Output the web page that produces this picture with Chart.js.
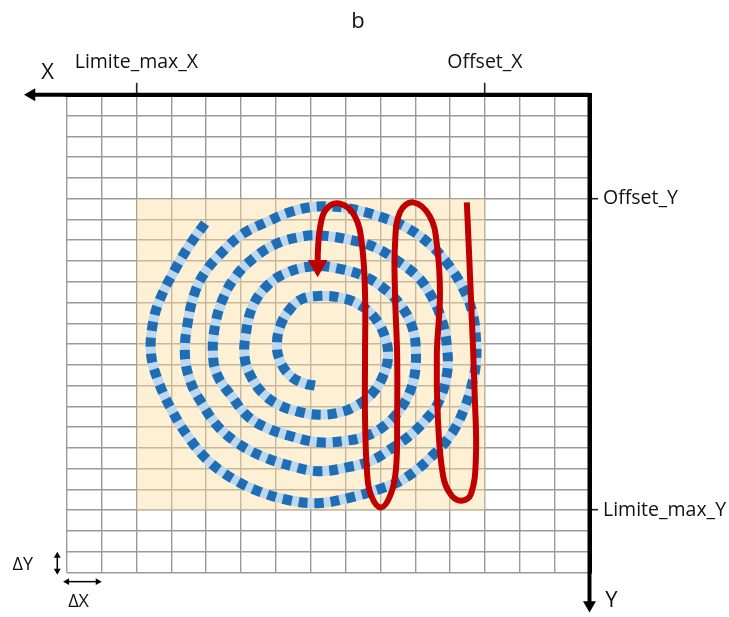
<!DOCTYPE html>
<html>
<head>
<meta charset="utf-8">
<script src="https://cdn.jsdelivr.net/npm/chart.js@4.4.1/dist/chart.umd.min.js"></script>
<style>
  html, body { margin: 0; padding: 0; background: #fff; }
</style>
</head>
<body>
<canvas id="scan-chart" width="729" height="617"></canvas>
<script>
// grid size, in cells (ΔX, ΔY)
const gridCols = 15;
const gridRows = 23;

// labelled ticks on the two axes
const xTicks = [3, 13];
const xTickLabels = ['Offset_X', 'Limite_max_X'];
const yTicks = [5, 20];
const yTickLabels = ['Offset_Y', 'Limite_max_Y'];

// scanned zone
const zoneX = [3, 13];
const zoneY = [5, 20];

// spiral path (inner end -> outer end)
const spiralX = [7.88, 8.16, 8.59, 8.88, 8.97, 8.85, 8.59, 8.25, 7.79, 7.22,
  6.64, 6.16, 5.87, 5.78, 5.93, 6.24, 6.73, 7.30, 7.88, 8.36,
  8.88, 9.34, 9.68, 9.89, 9.86, 9.66, 9.23, 8.65, 7.88, 7.10,
  6.41, 5.84, 5.38, 5.09, 4.98, 5.06, 5.38, 5.87, 6.44, 7.10,
  7.79, 8.54, 9.23, 9.80, 10.26, 10.66, 10.80, 10.75, 10.52, 10.17,
  9.68, 9.02, 8.36, 7.79, 6.93, 6.16, 5.50, 4.92, 4.52, 4.23,
  4.09, 4.09, 4.35, 4.72, 5.15, 5.67, 6.24, 6.93, 7.79, 8.54,
  9.40, 10.09, 10.66, 11.12, 11.46, 11.61, 11.52, 11.32, 11.03, 10.60,
  9.97, 9.23, 8.54, 7.79, 6.93, 5.95, 5.21, 4.58, 4.06, 3.66,
  3.37, 3.26, 3.26, 3.37, 3.57, 3.95, 4.52, 5.29, 5.95, 6.93,
  7.79, 8.65, 9.51, 10.26, 10.95, 11.52, 11.98, 12.38, 12.58, 12.53,
  12.32, 11.89, 11.46, 11.03];
const spiralY = [14.00, 13.91, 13.52, 12.80, 11.99, 11.03, 10.31, 9.83, 9.69, 9.74,
  10.07, 10.74, 11.65, 12.61, 13.57, 14.38, 15.01, 15.34, 15.39, 15.25,
  14.96, 14.43, 13.67, 12.71, 11.51, 10.17, 9.16, 8.54, 8.25, 8.40,
  8.78, 9.40, 10.22, 11.17, 12.32, 13.81, 15.01, 15.92, 16.45, 16.68,
  16.73, 16.45, 16.06, 15.49, 14.53, 13.57, 12.61, 11.17, 9.83, 8.78,
  7.92, 7.20, 6.86, 6.77, 6.96, 7.34, 8.01, 8.78, 9.74, 10.89,
  12.13, 13.43, 14.86, 15.68, 16.40, 17.02, 17.60, 17.93, 18.12, 17.88,
  17.40, 16.78, 15.97, 14.86, 13.76, 12.47, 10.89, 9.50, 8.54, 7.68,
  6.72, 6.10, 5.62, 5.38, 5.47, 5.90, 6.43, 7.20, 8.16, 9.21,
  10.41, 11.65, 12.95, 13.91, 15.01, 16.30, 17.40, 18.46, 18.94, 19.42,
  19.66, 19.51, 19.08, 18.46, 17.60, 16.45, 15.20, 13.76, 12.47, 11.03,
  9.83, 8.40, 7.20, 6.19];

// zig-zag (serpentine) path, start top right, ends on the arrow
const serpX = [3.52, 3.40, 3.29, 3.26, 3.40, 3.67, 3.97, 4.20, 4.35, 4.38,
  4.29, 4.38, 4.58, 5.06, 5.44, 5.58, 5.58, 5.52, 5.52, 5.55,
  5.70, 5.98, 6.27, 6.38, 6.44, 6.44, 6.44, 6.53, 6.73, 7.16,
  7.56, 7.73, 7.79, 7.80];
const serpY = [5.18, 9.83, 14.62, 17.50, 19.22, 19.54, 19.27, 18.36, 15.58, 12.47,
  9.59, 7.20, 5.86, 5.18, 5.66, 7.20, 9.59, 12.47, 15.58, 17.98,
  19.22, 19.87, 19.27, 18.22, 15.58, 12.47, 9.59, 7.20, 5.86, 5.24,
  5.52, 6.38, 7.44, 8.23];

// axis arrows and the cell-size arrows
const axisArrowX = [0, 16.01];
const axisArrowY = [0, 24.57];
const deltaYArrow = { x: 15.27, y: [22.19, 22.91] };
const deltaXArrow = { x: [14.99, 14.11], y: 23.44 };

const axisNames = [
  { text: 'X', x: 15.55, y: -1.06 },
  { text: 'Y', x: -0.63, y: 24.36 }
];

const toPoints = (xs, ys) => xs.map((x, i) => ({ x: x, y: ys[i] }));
const intTicks = n => Array.from({ length: n + 1 }, (_, i) => ({ value: i }));
const pick = (vals, labels) => v => {
  const i = vals.indexOf(v);
  return i < 0 ? '' : labels[i];
};

Chart.defaults.font.family = "'Open Sans', sans-serif";
Chart.defaults.color = '#111';

const axisNamePlugin = {
  id: 'axisNames',
  afterDraw(chart) {
    const { ctx } = chart;
    const sx = chart.scales.x;
    const sy = chart.scales.y;
    ctx.save();
    ctx.font = "22px 'Open Sans'";
    ctx.fillStyle = '#111';
    ctx.textAlign = 'center';
    ctx.textBaseline = 'middle';
    for (const n of axisNames) {
      ctx.fillText(n.text, sx.getPixelForValue(n.x), sy.getPixelForValue(n.y));
    }
    ctx.restore();
  }
};

// arrow heads of lines that end outside the chart area
const arrowHeadPlugin = {
  id: 'arrowHeads',
  afterDatasetsDraw(chart) {
    const { ctx } = chart;
    chart.data.datasets.forEach((ds, i) => {
      if (!ds.heads) return;
      const meta = chart.getDatasetMeta(i);
      ctx.save();
      ctx.fillStyle = ds.borderColor;
      meta.data.forEach((pt, j) => {
        const h = ds.heads[j];
        if (!h) return;
        Chart.helpers.drawPoint(ctx, {
          pointStyle: 'triangle', radius: h.r, rotation: h.rot, borderWidth: 0
        }, pt.x, pt.y);
      });
      ctx.restore();
    });
  }
};

const ctx = document.getElementById('scan-chart').getContext('2d');

const arrowLine = (data, heads, width, order) => ({
  data: data,
  heads: heads,
  borderColor: '#000',
  borderWidth: width,
  pointRadius: 0,
  tension: 0,
  clip: false,
  order: order
});

new Chart(ctx, {
  type: 'line',
  data: {
    datasets: [
      {
        data: [{ x: zoneX[0], y: zoneY[0] }, { x: zoneX[1], y: zoneY[0] }],
        fill: { value: zoneY[1] },
        backgroundColor: 'rgba(250, 222, 160, 0.45)',
        borderWidth: 0,
        borderColor: 'rgba(0,0,0,0)',
        pointRadius: 0,
        tension: 0,
        order: 10
      },
      {
        data: toPoints(spiralX, spiralY),
        borderColor: '#bdd7ee',
        borderWidth: 10,
        pointRadius: 0,
        tension: 0.4,
        order: 8
      },
      {
        data: toPoints(spiralX, spiralY),
        borderColor: '#1f6db4',
        borderWidth: 10,
        borderDash: [9, 7],
        borderCapStyle: 'butt',
        pointRadius: 0,
        tension: 0.4,
        order: 7
      },
      {
        data: toPoints(serpX, serpY),
        borderColor: '#c00000',
        borderWidth: 6,
        borderJoinStyle: 'round',
        borderCapStyle: 'butt',
        tension: 0.4,
        pointRadius: serpX.map((_, i) => i === serpX.length - 1 ? 11.5 : 0),
        pointStyle: 'triangle',
        pointRotation: 180,
        pointBackgroundColor: '#c00000',
        pointBorderWidth: 0,
        order: 5
      },
      arrowLine(axisArrowX.map(x => ({ x: x, y: 0 })), [null, { r: 7.5, rot: 270 }], 4, 3),
      arrowLine(axisArrowY.map(y => ({ x: 0, y: y })), [null, { r: 7.5, rot: 180 }], 4, 3),
      arrowLine(deltaYArrow.y.map(y => ({ x: deltaYArrow.x, y: y })),
        [{ r: 4, rot: 0 }, { r: 4, rot: 180 }], 1.5, 3),
      arrowLine(deltaXArrow.x.map(x => ({ x: x, y: deltaXArrow.y })),
        [{ r: 4, rot: 270 }, { r: 4, rot: 90 }], 1.5, 3)
    ]
  },
  options: {
    responsive: false,
    animation: false,
    events: [],
    layout: { padding: { left: -13, right: 0, top: 0, bottom: 0 } },
    plugins: {
      legend: { display: false },
      tooltip: { enabled: false },
      title: {
        display: true,
        text: 'b',
        color: '#111',
        font: { size: 22, weight: 'normal', lineHeight: 1.2 },
        padding: { top: 9, bottom: 0 }
      }
    },
    scales: {
      x: {
        type: 'linear',
        position: 'top',
        reverse: true,
        min: 0,
        max: gridCols,
        afterBuildTicks: s => { s.ticks = intTicks(gridCols); },
        afterFit: s => { s.height = 59.4; },
        ticks: {
          autoSkip: false,
          maxRotation: 0,
          padding: 8.6,
          color: '#111',
          font: { size: 19.5 },
          callback: pick(xTicks, xTickLabels)
        },
        grid: {
          color: '#9a9a9a',
          lineWidth: 1.4,
          tickLength: 12,
          tickWidth: 1.6,
          tickColor: c => (c.tick && xTicks.includes(c.tick.value)) ? '#222' : 'rgba(0,0,0,0)'
        },
        border: { color: '#000', width: 4 }
      },
      y: {
        type: 'linear',
        position: 'right',
        reverse: true,
        min: 0,
        max: gridRows,
        afterBuildTicks: s => { s.ticks = intTicks(gridRows); },
        afterFit: s => { s.width = 139.5; },
        ticks: {
          autoSkip: false,
          padding: 5,
          color: '#111',
          font: { size: 19.5 },
          callback: pick(yTicks, yTickLabels)
        },
        grid: {
          color: '#9a9a9a',
          lineWidth: 1.4,
          tickLength: 8.5,
          tickWidth: 1.6,
          tickColor: c => (c.tick && yTicks.includes(c.tick.value)) ? '#222' : 'rgba(0,0,0,0)'
        },
        border: { color: '#000', width: 4 }
      },
      xb: {
        type: 'linear',
        position: 'bottom',
        reverse: true,
        min: 0,
        max: gridCols,
        afterBuildTicks: s => { s.ticks = [{ value: 14.66 }]; },
        afterFit: s => { s.height = 42.2; },
        ticks: {
          autoSkip: false,
          maxRotation: 0,
          padding: 18.5,
          color: '#111',
          font: { size: 18 },
          callback: () => 'ΔX'
        },
        grid: { display: false, drawTicks: false },
        border: { display: false }
      },
      yl: {
        type: 'linear',
        position: 'left',
        reverse: true,
        min: 0,
        max: gridRows,
        afterBuildTicks: s => { s.ticks = [{ value: 22.65 }]; },
        afterFit: s => { s.width = 79.7; },
        ticks: {
          autoSkip: false,
          padding: 33.7,
          color: '#111',
          font: { size: 18 },
          callback: () => 'ΔY'
        },
        grid: { display: false, drawTicks: false },
        border: { display: false }
      }
    }
  },
  plugins: [axisNamePlugin, arrowHeadPlugin]
});
</script>
</body>
</html>
